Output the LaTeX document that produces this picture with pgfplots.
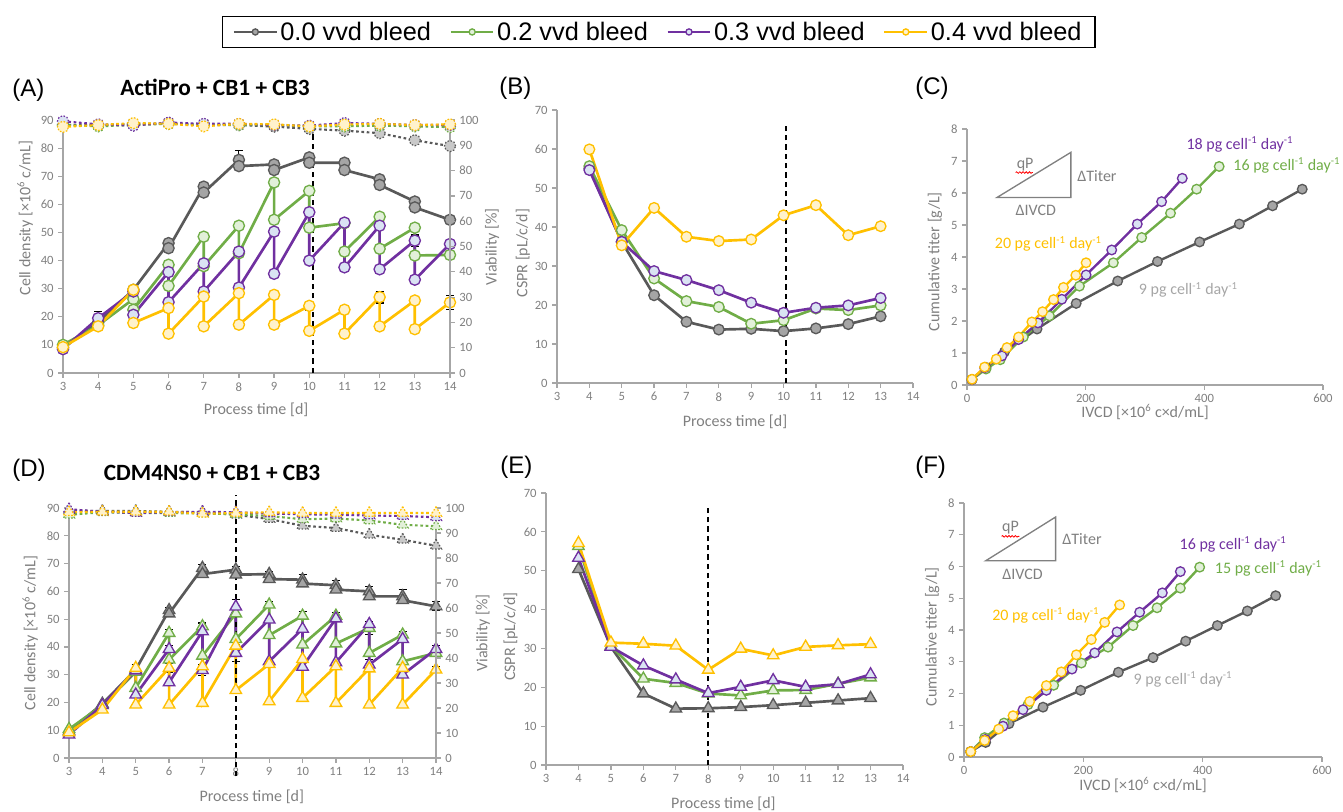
\documentclass[border=0pt]{standalone}
\usepackage{fontspec}
\setmainfont{Carlito}
\newfontfamily\arialf{Liberation Sans}
\usepackage{pgfplots}
\pgfplotsset{compat=1.18}
\usetikzlibrary{decorations.pathmorphing}

\definecolor{cGl}{HTML}{595959}
\definecolor{cGf}{HTML}{A5A5A5}
\definecolor{cNl}{HTML}{70AD47}
\definecolor{cNf}{HTML}{E2F0D9}
\definecolor{cPl}{HTML}{7030A0}
\definecolor{cPf}{HTML}{DAE3F3}
\definecolor{cYl}{HTML}{FFC000}
\definecolor{cYf}{HTML}{FFF2CC}
\definecolor{axg}{HTML}{A6A6A6}
\definecolor{txg}{HTML}{808080}

\tikzset{note/.style={font=\fontsize{12}{14}\selectfont},
  wavy/.style={red, line width=0.6pt, decorate, decoration={snake, amplitude=0.6pt, segment length=2.4pt}},
  letter/.style={anchor=west, inner sep=0pt, font=\arialf\fontsize{18}{20}\selectfont}}

\pgfplotsset{
  panel/.style={
    scale only axis, clip=false,
    axis x line*=bottom, axis y line*=left,
    axis line style={axg, line width=1.1pt},
    tick style={axg, line width=0.9pt},
    major tick length=3.5pt, tick align=outside,
    tick label style={font=\fontsize{9.5}{10}\selectfont, text=txg},
    /pgf/number format/assume math mode=true,
    label style={font=\fontsize{12}{14}\selectfont, text=txg},
    xlabel style={anchor=center}, ylabel style={anchor=center},
  },
  timeax/.style={xmin=3, xmax=14, xtick={3,...,14}},
  s0/.style={color=cGl, line width=2pt, mark=*, mark size=4.2pt, mark options={fill=cGf, draw=cGl, line width=1pt}},
  s2/.style={color=cNl, line width=2pt, mark=*, mark size=4.2pt, mark options={fill=cNf, draw=cNl, line width=1pt}},
  s3/.style={color=cPl, line width=2pt, mark=*, mark size=4.2pt, mark options={fill=cPf, draw=cPl, line width=1pt}},
  s4/.style={color=cYl, line width=2pt, mark=*, mark size=4.2pt, mark options={fill=cYf, draw=cYl, line width=1pt}},
  v0/.style={color=cGl, line width=1.6pt, dash pattern=on 2pt off 2pt, mark=*, mark size=4.2pt, mark options={fill=cGf!60, draw=cGl, line width=0.9pt, dash pattern=on 1.2pt off 1.2pt}},
  v2/.style={color=cNl, line width=1.6pt, dash pattern=on 2pt off 2pt, mark=*, mark size=4.2pt, mark options={fill=cNf, draw=cNl, line width=0.9pt, dash pattern=on 1.2pt off 1.2pt}},
  v3/.style={color=cPl, line width=1.6pt, dash pattern=on 2pt off 2pt, mark=*, mark size=4.2pt, mark options={fill=cPf, draw=cPl, line width=0.9pt, dash pattern=on 1.2pt off 1.2pt}},
  v4/.style={color=cYl, line width=1.6pt, dash pattern=on 2pt off 2pt, mark=*, mark size=4.2pt, mark options={fill=cYf, draw=cYl, line width=0.9pt, dash pattern=on 1.2pt off 1.2pt}},
  eb/.style={only marks, mark=none, forget plot, error bars/.cd, y dir=both, y explicit,
    error bar style={draw=black, line width=0.8pt},
    error mark options={rotate=90, mark size=3pt, draw=black, line width=0.8pt}},
  cut/.style={forget plot, black, line width=1.2pt, dash pattern=on 4pt off 3pt, mark=none},
}

\begin{document}
\begin{tikzpicture}
\useasboundingbox (0pt,0pt) rectangle (1007.25pt,-608.25pt);

%================ (A) cell density =================
\begin{axis}[panel, timeax, at={(47.25pt,-279.75pt)}, anchor=south west,
  width=290.25pt, height=189.75pt, ymin=0, ymax=90, ytick={0,10,...,90},
  xlabel={Process time [d]}, ylabel={Cell density [×10\textsuperscript{6} c/mL]},
  xlabel style={at={(axis description cs:0.499,-0.146)}},
  ylabel style={at={(axis description cs:-0.098,0.613)}},
  legend columns=4,
  legend style={at={(axis description cs:1.539,1.348)}, anchor=center, draw=black, line width=0.9pt,
    font=\arialf\fontsize{19}{22}\selectfont, inner xsep=8pt, inner ysep=2pt,
    /tikz/every even column/.append style={column sep=12pt}},
  legend image code/.code={\draw[mark repeat=2, mark phase=2, #1, mark size=2.3pt, line width=1.6pt] plot coordinates {(0pt,0pt) (16pt,0pt) (32pt,0pt)};},
]
\addplot[eb] coordinates {(8,75.8) +- (0,3.4) (4,19.5) +- (0,2.5) (12,27) +- (0,2.1) (10,23.9) +- (0,1.6) (13,47.1) +- (0,2) (14,25.1) +- (0,2.6)};
\addplot[s0] coordinates {(3,9) (4,18) (5,29.6) (6,46.2) (6,44.4) (7,66.3) (7,64.2) (8,75.8) (8,73.6) (9,74.2) (9,72.2) (10,76.7) (10,74.8) (11,74.8) (11,72.2) (12,68.9) (12,66.9) (13,61) (13,58.9) (14,54.5)};
\addlegendentry{0.0 vvd bleed}
\addplot[s2] coordinates {(3,10) (4,17) (5,26.3) (5,22.5) (6,38.5) (6,31) (7,48.5) (7,38) (8,52.4) (8,42.6) (9,67.8) (9,54.5) (10,64.8) (10,51.7) (11,53.3) (11,43.2) (12,55.6) (12,44.2) (13,51.7) (13,41.8) (14,42)};
\addlegendentry{0.2 vvd bleed}
\addplot[s3] coordinates {(3,8.5) (4,19.5) (5,29) (5,20.7) (6,35.9) (6,25.2) (7,39) (7,29) (8,43.2) (8,30.4) (9,50.3) (9,35.3) (10,57.2) (10,40) (11,53.5) (11,37.6) (12,52.4) (12,36.9) (13,47.1) (13,33.2) (14,45.9)};
\addlegendentry{0.3 vvd bleed}
\addplot[s4] coordinates {(3,9.2) (4,16.6) (5,29.6) (5,17.8) (6,23.1) (6,14) (7,27.2) (7,16.6) (8,28.4) (8,17.2) (9,27.8) (9,17.2) (10,23.9) (10,15) (11,22.5) (11,14) (12,27) (12,16.6) (13,25.8) (13,15.6) (14,25.1)};
\addlegendentry{0.4 vvd bleed}
\addplot[cut] coordinates {(10.1,0) (10.1,88)};
\end{axis}
%================ (A) viability =================
\begin{axis}[panel, at={(47.25pt,-279.75pt)}, anchor=south west,
  width=290.25pt, height=189.75pt, xmin=3, xmax=14, ymin=0, ymax=100,
  axis y line*=right, axis x line=none, xtick=\empty, ytick={0,10,...,100},
  ylabel={Viability [\%]}, ylabel style={at={(axis description cs:1.109,0.498)}},
]
\addplot[v0] coordinates {(3,98) (4,98) (5,98.5) (6,98.5) (7,98) (8,98) (9,97.4) (10,96.5) (11,95.8) (12,94.8) (13,92) (14,89.7)};
\addplot[v2] coordinates {(3,98) (4,97.5) (5,98) (6,98.5) (7,98.3) (8,98) (9,98) (10,97.5) (11,97.5) (12,97.8) (13,97.5) (14,97.2)};
\addplot[v3] coordinates {(3,99.5) (4,98.3) (5,97.8) (6,99) (7,98.5) (8,98.5) (9,98) (10,97.8) (11,98.8) (12,98.5) (13,98) (14,98)};
\addplot[v4] coordinates {(3,97.3) (4,98) (5,98.8) (6,98.5) (7,97.5) (8,98.5) (9,98.3) (10,97.5) (11,98.2) (12,98.5) (13,98) (14,98.3)};
\end{axis}

%================ (B) CSPR =================
\begin{axis}[panel, timeax, at={(417.75pt,-287.25pt)}, anchor=south west,
  width=267pt, height=204.75pt, ymin=0, ymax=70, ytick={0,10,...,70},
  xlabel={Process time [d]}, ylabel={CSPR [pL/c/d]},
  xlabel style={at={(axis description cs:0.5,-0.143)}},
  ylabel style={at={(axis description cs:-0.0955,0.476)}},
]
\addplot[s0, mark size=4pt] coordinates {(4,55) (5,36.2) (6,22.5) (7,15.7) (8,13.7) (9,13.9) (10,13.3) (11,14) (12,15.1) (13,17.1)};
\addplot[s2, mark size=4pt] coordinates {(4,55.6) (5,39.2) (6,26.8) (7,21) (8,19.5) (9,15.2) (10,16.1) (11,19.1) (12,18.7) (13,19.9)};
\addplot[s3, mark size=4pt] coordinates {(4,54.6) (5,36.2) (6,28.7) (7,26.4) (8,23.8) (9,20.6) (10,18) (11,19.3) (12,19.9) (13,21.8)};
\addplot[s4, mark size=4pt] coordinates {(4,59.9) (5,35.3) (6,44.9) (7,37.5) (8,36.4) (9,36.8) (10,43) (11,45.6) (12,37.9) (13,40.2)};
\addplot[cut] coordinates {(10.07,0) (10.07,67)};
\end{axis}

%================ (C) titer vs IVCD =================
\begin{axis}[panel, at={(725.25pt,-288.75pt)}, anchor=south west,
  width=267pt, height=192pt, xmin=0, xmax=600, xtick={0,200,400,600},
  ymin=0, ymax=8, ytick={0,...,8},
  xlabel={IVCD [×10\textsuperscript{6} c×d/mL]}, ylabel={Cumulative titer [g/L]},
  xlabel style={at={(axis description cs:0.5,-0.104)}},
  ylabel style={at={(axis description cs:-0.0899,0.482)}},
]
\addplot[s0, mark size=3.6pt, line width=1.8pt] coordinates {(8.4,0.17) (32,0.55) (63,1.03) (118,1.75) (184,2.55) (254,3.25) (321,3.86) (392,4.47) (459,5.03) (515,5.6) (565,6.12)};
\addplot[s2, mark size=3.6pt, line width=1.8pt] coordinates {(8.4,0.17) (32,0.5) (56,0.79) (95,1.5) (139,2.16) (189.5,3.09) (246.7,3.82) (294.4,4.61) (343,5.37) (387,6.12) (425,6.83)};
\addplot[s3, mark size=3.6pt, line width=1.8pt] coordinates {(8.4,0.17) (29.7,0.54) (58.9,0.91) (86.9,1.42) (119.4,1.94) (159.8,2.68) (200.7,3.44) (243.9,4.22) (287,5.03) (328,5.73) (362.8,6.46)};
\addplot[s4, mark size=3.6pt, line width=1.8pt] coordinates {(8.4,0.18) (29.7,0.56) (49.3,0.81) (67.3,1.17) (86.9,1.5) (109.3,1.97) (127.3,2.29) (145.8,2.67) (162.6,3.05) (183.4,3.43) (200.7,3.82)};
\draw[txg, line width=1pt] (axis cs:50.5,5.86) -- (axis cs:175,7.27) -- (axis cs:175,5.86) -- cycle;
\node[note, txg] at (axis cs:98,6.9) {qP};
\draw[wavy] (axis cs:82,6.64) -- (axis cs:111,6.64);
\node[note, txg, anchor=west] at (axis cs:178,6.54) {ΔTiter};
\node[note, txg] at (axis cs:116,5.45) {ΔIVCD};
\node[note, cPl] at (axis cs:460,7.51) {18 pg cell\textsuperscript{-1} day\textsuperscript{-1}};
\node[note, cNl] at (axis cs:539,6.85) {16 pg cell\textsuperscript{-1} day\textsuperscript{-1}};
\node[note, cYl] at (axis cs:137,4.41) {20 pg cell\textsuperscript{-1} day\textsuperscript{-1}};
\node[note, axg] at (axis cs:373,2.97) {9 pg cell\textsuperscript{-1} day\textsuperscript{-1}};
\end{axis}

%================ (D) cell density =================
\begin{axis}[panel, timeax, at={(51.75pt,-568.5pt)}, anchor=south west,
  width=275.25pt, height=187.5pt, ymin=0, ymax=90, ytick={0,10,...,90},
  xlabel={Process time [d]}, ylabel={Cell density [×10\textsuperscript{6} c/mL]},
  xlabel style={at={(axis description cs:0.498,-0.157)}},
  ylabel style={at={(axis description cs:-0.106,0.5)}},
]
\addplot[eb] coordinates {(5,31.8) +- (0,2) (6,53.2) +- (0,1) (7,68.4) +- (0,1.2) (8,67.8) +- (0,1.3) (9,66.2) +- (0,1) (10,64.2) +- (0,1.8) (11,62.2) +- (0,1.7) (12,60) +- (0,1.8) (13,58.2) +- (0,2.4) (14,54.6) +- (0,1.6)
  (6,45) +- (0,1.2) (7,47.4) +- (0,1.2) (9,55.2) +- (0,1) (10,51.2) +- (0,1.5) (11,51.2) +- (0,1.2) (12,46.8) +- (0,2.2) (13,44.4) +- (0,1.2)
  (8,54.5) +- (0,2.5) (8,37.8) +- (0,3) (6,39.2) +- (0,1.2) (6,32.4) +- (0,1.5) (7,31.6) +- (0,2) (12,33.6) +- (0,2) (13,32.4) +- (0,2.2) (14,39.2) +- (0,1.2) (14,31.8) +- (0,1)};
\addplot[s0, mark=triangle*, mark size=5pt] coordinates {(3,9.6) (4,19.5) (5,31.8) (6,53.2) (6,52) (7,68.4) (7,66.2) (8,67.8) (8,66) (9,66.2) (9,64.4) (10,64.2) (10,62.8) (11,62.2) (11,60.6) (12,60) (12,58.2) (13,58.2) (13,56.8) (14,54.6)};
\addplot[s2, mark=triangle*, mark size=5pt] coordinates {(3,10.4) (4,19) (5,31) (5,25.2) (6,45) (6,35.4) (7,47.4) (7,36.8) (8,52) (8,42.8) (9,55.2) (9,44.2) (10,51.2) (10,40.8) (11,51.2) (11,41.2) (12,46.8) (12,37.8) (13,44.4) (13,34.8) (14,37.8)};
\addplot[s3, mark=triangle*, mark size=5pt] coordinates {(3,8.4) (4,19) (5,31.5) (5,22.8) (6,39.2) (6,27.2) (7,45.6) (7,31.6) (8,54.5) (8,37.8) (9,49.8) (9,34.8) (10,46.5) (10,32.8) (11,50.2) (11,34.4) (12,48.2) (12,33.6) (13,42.8) (13,30) (14,39.2)};
\addplot[s4, mark=triangle*, mark size=5pt] coordinates {(3,9.2) (4,17.4) (5,32.4) (5,19.2) (6,32.4) (6,19.2) (7,33) (7,19.8) (8,40.4) (8,24.4) (9,33.8) (9,20.4) (10,35.6) (10,21.6) (11,33) (11,19.8) (12,32.2) (12,19.2) (13,32.4) (13,19.2) (14,31.8)};
\addplot[cut] coordinates {(8,-6.6) (8,94.8)};
\end{axis}
%================ (D) viability =================
\begin{axis}[panel, at={(51.75pt,-568.5pt)}, anchor=south west,
  width=275.25pt, height=187.5pt, xmin=3, xmax=14, ymin=0, ymax=100,
  axis y line*=right, axis x line=none, xtick=\empty, ytick={0,10,...,100},
  ylabel={Viability [\%]}, ylabel style={at={(axis description cs:1.128,0.5)}},
]
\addplot[v0, mark=triangle*, mark size=4.8pt] coordinates {(3,99) (4,98.8) (5,98.8) (6,98.5) (7,98.3) (8,97.3) (9,95.6) (10,92.9) (11,92) (12,89.3) (13,87.3) (14,84.9)};
\addplot[v2, mark=triangle*, mark size=4.8pt] coordinates {(3,97.3) (4,98.3) (5,98) (6,98) (7,97.8) (8,97.5) (9,96.8) (10,95.5) (11,95.8) (12,95) (13,93.3) (14,92.7)};
\addplot[v3, mark=triangle*, mark size=4.8pt] coordinates {(3,99.5) (4,98.5) (5,98) (6,98.3) (7,98.5) (8,98.3) (9,97.8) (10,97.5) (11,97.3) (12,97) (13,96.8) (14,96.3)};
\addplot[v4, mark=triangle*, mark size=4.8pt] coordinates {(3,98.3) (4,98.5) (5,98.5) (6,98.5) (7,97.7) (8,98) (9,98.3) (10,98) (11,98) (12,98) (13,98) (14,98)};
\end{axis}

%================ (E) CSPR =================
\begin{axis}[panel, timeax, at={(409.5pt,-573.75pt)}, anchor=south west,
  width=267.75pt, height=204pt, ymin=0, ymax=70, ytick={0,10,...,70},
  xlabel={Process time [d]}, ylabel={CSPR [pL/c/d]},
  xlabel style={at={(axis description cs:0.497,-0.141)}},
  ylabel style={at={(axis description cs:-0.099,0.472)}},
]
\addplot[s0, mark=triangle*, mark size=5pt] coordinates {(4,50.4) (5,30.4) (6,18.4) (7,14.5) (8,14.6) (9,14.9) (10,15.4) (11,16) (12,16.6) (13,17.2)};
\addplot[s2, mark=triangle*, mark size=5pt] coordinates {(4,56.3) (5,30.7) (6,22.2) (7,21.1) (8,18.4) (9,17.9) (10,19.2) (11,19.3) (12,20.9) (13,22.5)};
\addplot[s3, mark=triangle*, mark size=5pt] coordinates {(4,53.3) (5,30.4) (6,25.6) (7,22) (8,18.5) (9,20.1) (10,21.8) (11,20.1) (12,20.8) (13,23.3)};
\addplot[s4, mark=triangle*, mark size=5pt] coordinates {(4,57.1) (5,31.5) (6,31.2) (7,30.7) (8,24.5) (9,29.9) (10,28.2) (11,30.4) (12,30.8) (13,31.1)};
\addplot[cut] coordinates {(8,0) (8,66.8)};
\end{axis}

%================ (F) titer vs IVCD =================
\begin{axis}[panel, at={(723pt,-567.75pt)}, anchor=south west,
  width=268.5pt, height=190.5pt, xmin=0, xmax=600, xtick={0,200,400,600},
  ymin=0, ymax=8, ytick={0,...,8},
  xlabel={IVCD [×10\textsuperscript{6} c×d/mL]}, ylabel={Cumulative titer [g/L]},
  xlabel style={at={(axis description cs:0.5,-0.110)}},
  ylabel style={at={(axis description cs:-0.0885,0.474)}},
]
\addplot[s0, mark size=3.6pt, line width=1.8pt] coordinates {(11.2,0.17) (36.3,0.46) (75.4,1.05) (132.4,1.57) (195.5,2.1) (258.7,2.67) (316.8,3.13) (371.5,3.65) (424.6,4.14) (474.9,4.6) (522.4,5.08)};
\addplot[s2, mark size=3.6pt, line width=1.8pt] coordinates {(11.2,0.17) (34.6,0.61) (67,1.07) (107.3,1.65) (150.3,2.26) (196.7,2.96) (241.4,3.46) (283.3,4.14) (323.5,4.7) (362.6,5.32) (395,5.98)};
\addplot[s3, mark size=3.6pt, line width=1.8pt] coordinates {(11.2,0.17) (35.8,0.55) (65.4,0.97) (98.9,1.49) (138,2.1) (181,2.77) (219,3.28) (256.4,3.94) (294.4,4.56) (332.4,5.17) (362.6,5.84)};
\addplot[s4, mark size=3.6pt, line width=1.8pt] coordinates {(11.2,0.17) (34.6,0.52) (58.1,0.88) (82.1,1.3) (110.1,1.75) (138,2.25) (163.1,2.68) (188.3,3.22) (213.4,3.7) (235.8,4.24) (260.9,4.79)};
\draw[txg, line width=1pt] (axis cs:36.3,6.18) -- (axis cs:153.6,7.56) -- (axis cs:153.6,6.18) -- cycle;
\node[note, txg] at (axis cs:78,7.23) {qP};
\draw[wavy] (axis cs:63,6.95) -- (axis cs:93,6.95);
\node[note, txg, anchor=west] at (axis cs:157,6.87) {ΔTiter};
\node[note, txg] at (axis cs:98,5.76) {ΔIVCD};
\node[note, cPl] at (axis cs:451,6.69) {16 pg cell\textsuperscript{-1} day\textsuperscript{-1}};
\node[note, cNl] at (axis cs:510,5.95) {15 pg cell\textsuperscript{-1} day\textsuperscript{-1}};
\node[note, cYl] at (axis cs:137,4.47) {20 pg cell\textsuperscript{-1} day\textsuperscript{-1}};
\node[note, axg] at (axis cs:367,2.44) {9 pg cell\textsuperscript{-1} day\textsuperscript{-1}};
\end{axis}

%================ titles and panel letters =================
\node[font=\bfseries\fontsize{17.5}{20}\selectfont] at (161.25pt,-65.25pt) {ActiPro + CB1 + CB3};
\node[font=\bfseries\fontsize{17.5}{20}\selectfont] at (159pt,-354.75pt) {CDM4NS0 + CB1 + CB3};
\node[letter] at (9pt,-67.5pt) {(A)};
\node[letter] at (374.25pt,-66pt) {(B)};
\node[letter] at (686.25pt,-66pt) {(C)};
\node[letter] at (9pt,-352.5pt) {(D)};
\node[letter] at (375pt,-350.25pt) {(E)};
\node[letter] at (686.25pt,-350.25pt) {(F)};
\end{tikzpicture}
\end{document}
